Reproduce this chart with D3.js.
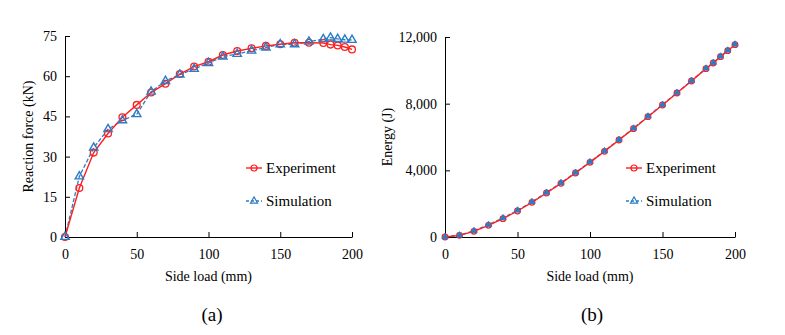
<!DOCTYPE html>
<html>
<head>
<meta charset="utf-8">
<script src="https://cdn.jsdelivr.net/npm/d3@7"></script>
<style>
  body { margin: 0; background: #fff; }
  svg { display: block; }
  text { font-family: "Liberation Serif", "Times New Roman", serif; fill: #000; }
</style>
</head>
<body>
<svg id="chart" width="785" height="335"></svg>
<script>
// ---- data ----
const sideLoad = [0,10,20,30,40,50,60,70,80,90,100,110,120,130,140,150,160,170,180,185,190,195,200];
const forceExperiment = [0,18.3,31.5,38.6,44.7,49.3,53.9,57.2,60.8,63.6,65.4,67.9,69.4,70.4,71.3,71.9,72.5,72.5,72.4,71.8,71.5,70.9,70.0];
const forceSimulation = [0,22.6,33.3,40.2,43.5,45.8,54.2,58.2,60.6,62.7,64.9,67.3,68.3,69.5,70.7,71.9,71.9,72.9,73.8,74.4,73.9,73.6,73.5];
const energyExperiment = [0,100,340,700,1100,1560,2080,2640,3220,3840,4480,5140,5820,6500,7220,7920,8640,9360,10100,10440,10820,11180,11540];
const energySimulation = [0,110,370,740,1140,1600,2110,2670,3250,3870,4500,5160,5840,6520,7240,7940,8660,9380,10120,10460,10840,11200,11560];
const xTicks = [0,50,100,150,200];
const forceTicks = [0,15,30,45,60,75];
const energyTicks = [0,4000,8000,12000];
const seriesNames = ["Experiment","Simulation"];

const RED = "#ff1f1f", BLUE = "#2a7cc6";
const svg = d3.select("#chart");

function panel(opts) {
  const g = svg.append("g");
  const x = d3.scaleLinear().domain([0,200]).range(opts.xr);
  const y = d3.scaleLinear().domain(opts.yd).range(opts.yr);

  const xa = g.append("g").attr("transform", `translate(0,${opts.yr[0]})`)
    .call(d3.axisBottom(x).tickValues(xTicks).tickSize(-5).tickPadding(12).tickSizeOuter(0));
  const ya = g.append("g").attr("transform", `translate(${opts.xr[0]},0)`)
    .call(d3.axisLeft(y).tickValues(opts.yt).tickSize(-5).tickPadding(8).tickSizeOuter(0).tickFormat(opts.fmt));
  [xa, ya].forEach(a => {
    a.selectAll("path.domain").attr("stroke", "#000").attr("stroke-width", 1);
    a.selectAll(".tick line").attr("stroke", "#000").attr("stroke-width", 1);
    a.selectAll("text").attr("font-family", "Liberation Serif").attr("font-size", 14).attr("fill", "#000");
  });

  const line = d3.line().x((d,i) => x(sideLoad[i])).y(d => y(d));
  g.append("path").datum(opts.sim).attr("d", line).attr("fill", "none")
    .attr("stroke", BLUE).attr("stroke-width", 1.3).attr("stroke-dasharray", "4,2");
  g.append("path").datum(opts.exp).attr("d", line).attr("fill", "none")
    .attr("stroke", RED).attr("stroke-width", 1.4);

  const tri = d3.symbol().type(d3.symbolTriangle).size(opts.triSize);
  g.selectAll(".ex").data(opts.exp).join("circle")
    .attr("cx", (d,i) => x(sideLoad[i])).attr("cy", d => y(d)).attr("r", opts.cr)
    .attr("fill", "none").attr("stroke", RED).attr("stroke-width", 1.3);
  g.selectAll(".si").data(opts.sim).join("path")
    .attr("transform", (d,i) => `translate(${x(sideLoad[i])},${y(d)})`).attr("d", tri)
    .attr("fill", opts.triFill).attr("stroke", BLUE).attr("stroke-width", opts.triStroke);

  g.append("text").attr("x", (opts.xr[0]+opts.xr[1])/2).attr("y", 281)
    .attr("text-anchor", "middle").attr("font-size", 14).text("Side load (mm)");
  g.append("text").attr("transform", `translate(${opts.ylx},${(opts.yr[0]+opts.yr[1])/2}) rotate(-90)`)
    .attr("text-anchor", "middle").attr("font-size", 14).text(opts.ylabel);
  g.append("text").attr("x", opts.capx).attr("y", 321)
    .attr("text-anchor", "middle").attr("font-size", 19).text(opts.cap);

  const lg = g.append("g");
  const ly = [168, 201];
  lg.append("line").attr("x1", opts.lx).attr("x2", opts.lx+16).attr("y1", ly[0]).attr("y2", ly[0])
    .attr("stroke", RED).attr("stroke-width", 1.4);
  lg.append("circle").attr("cx", opts.lx+8).attr("cy", ly[0]).attr("r", 3)
    .attr("fill", "none").attr("stroke", RED).attr("stroke-width", 1.2);
  lg.append("text").attr("x", opts.lx+20).attr("y", ly[0]+5).attr("font-size", 15).text(seriesNames[0]);
  lg.append("line").attr("x1", opts.lx).attr("x2", opts.lx+16).attr("y1", ly[1]).attr("y2", ly[1])
    .attr("stroke", BLUE).attr("stroke-width", 1.3).attr("stroke-dasharray", "3,2");
  lg.append("path").attr("transform", `translate(${opts.lx+8},${ly[1]})`)
    .attr("d", d3.symbol().type(d3.symbolTriangle).size(22))
    .attr("fill", "none").attr("stroke", BLUE).attr("stroke-width", 1.2);
  lg.append("text").attr("x", opts.lx+20).attr("y", ly[1]+5).attr("font-size", 15).text(seriesNames[1]);
}

panel({
  xr: [65, 352], yr: [237, 36], yd: [0, 75], yt: forceTicks, fmt: d3.format("d"),
  exp: forceExperiment, sim: forceSimulation, cr: 3.4, triSize: 30, triFill: "none", triStroke: 1.4,
  ylabel: "Reaction force (kN)", ylx: 33, cap: "(a)", capx: 212, lx: 246
});
panel({
  xr: [445, 735], yr: [237, 37], yd: [0, 12000], yt: energyTicks, fmt: d3.format(","),
  exp: energyExperiment, sim: energySimulation, cr: 2.8, triSize: 16, triFill: BLUE, triStroke: 1.0,
  ylabel: "Energy (J)", ylx: 392, cap: "(b)", capx: 592, lx: 626
});
</script>
</body>
</html>
